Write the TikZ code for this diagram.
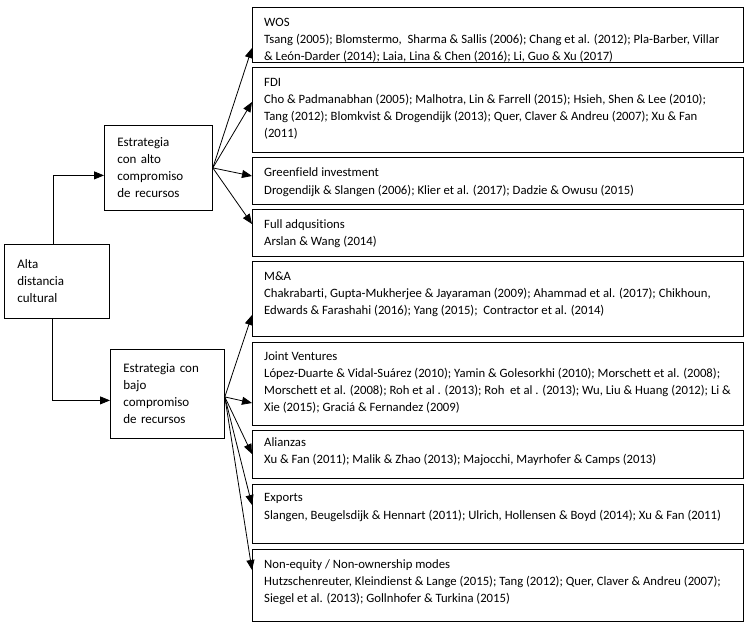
\documentclass[tikz,border=0pt]{standalone}
\usepackage{fontspec}
\setmainfont{Carlito}[Ligatures=CommonOff]
\usetikzlibrary{arrows.meta,calc}
\begin{document}
\begin{tikzpicture}[x=1pt,y=-1pt,
  box/.style={draw, line width=0.8pt, rectangle, inner sep=0pt, anchor=north west, minimum width=491pt},
  lbox/.style={draw, line width=0.8pt, rectangle, anchor=north west, align=left, inner xsep=13pt, inner ysep=0pt, font=\fontsize{13}{17}\selectfont},
  txt/.style={anchor=north west, inner sep=0pt, align=left, font=\fontsize{12.7}{17}\selectfont},
  arr/.style={line width=0.8pt, -{Triangle[length=10pt,width=8pt]}}]
\fill[white] (0,0) rectangle (753,629);
\useasboundingbox (0,0) rectangle (753,629);

% left boxes
\node[lbox, text width=79pt, minimum height=74pt] (alta) at (4,244) {Alta\\distancia\\cultural};
\node[lbox, text width=82pt, minimum height=85pt] (alto) at (104,125) {Estrategia\\con alto\\compromiso\\de recursos};
\node[lbox, text width=88pt, minimum height=89pt] (bajo) at (110,349) {Estrategia con\\bajo\\compromiso\\de recursos};

% right boxes
\node[box, minimum height=55pt] (wos) at (252,7) {};
\node[box, minimum height=85pt] (fdi) at (252,67) {};
\node[box, minimum height=47pt] (green) at (252,157) {};
\node[box, minimum height=47pt] (full) at (252,209) {};
\node[box, minimum height=75pt] (ma) at (252,261) {};
\node[box, minimum height=83pt] (jv) at (252,342) {};
\node[box, minimum height=48pt] (ali) at (252,430) {};
\node[box, minimum height=59pt] (exp) at (252,484) {};
\node[box, minimum height=72pt] (neq) at (252,549) {};

\node[txt] (twos) at ($(wos.north west)+(12,7.5)$) {\strut WOS\\Tsang (2005); Blomstermo,\ \ Sharma \& Sallis (2006); Chang et al. (2012); Pla-Barber, Villar\\\& León-Darder (2014); Laia, Lina \& Chen (2016); Li, Guo \& Xu (2017)};
\node[txt] (tfdi) at ($(fdi.north west)+(12,7.5)$) {\strut FDI\\Cho \& Padmanabhan (2005); Malhotra, Lin \& Farrell (2015); Hsieh, Shen \& Lee (2010);\\Tang (2012); Blomkvist \& Drogendijk (2013); Quer, Claver \& Andreu (2007); Xu \& Fan\\(2011)};
\node[txt] (tgreen) at ($(green.north west)+(12,7)$) {\strut Greenfield investment\\[1pt]Drogendijk \& Slangen (2006); Klier et al. (2017); Dadzie \& Owusu (2015)};
\node[txt] (tfull) at ($(full.north west)+(12,7.5)$) {\strut Full adqusitions\\Arslan \& Wang (2014)};
\node[txt] (tma) at ($(ma.north west)+(12,7.5)$) {\strut M\&A\\Chakrabarti, Gupta-Mukherjee \& Jayaraman (2009); Ahammad et al. (2017); Chikhoun,\\Edwards \& Farashahi (2016); Yang (2015);\ \ Contractor et al. (2014)};
\node[txt] (tjv) at ($(jv.north west)+(12,6)$) {\strut Joint Ventures\\López-Duarte \& Vidal-Suárez (2010); Yamin \& Golesorkhi (2010); Morschett et al. (2008);\\Morschett et al. (2008); Roh et al . (2013); Roh\ \ et al . (2013); Wu, Liu \& Huang (2012); Li \&\\Xie (2015); Graciá \& Fernandez (2009)};
\node[txt] (tali) at ($(ali.north west)+(12,4)$) {\strut Alianzas\\Xu \& Fan (2011); Malik \& Zhao (2013); Majocchi, Mayrhofer \& Camps (2013)};
\node[txt] (texp) at ($(exp.north west)+(12,5)$) {\strut Exports\\[1pt]Slangen, Beugelsdijk \& Hennart (2011); Ulrich, Hollensen \& Boyd (2014); Xu \& Fan (2011)};
\node[txt] (tneq) at ($(neq.north west)+(12,7)$) {\strut Non-equity / Non-ownership modes\\Hutzschenreuter, Kleindienst \& Lange (2015); Tang (2012); Quer, Claver \& Andreu (2007);\\Siegel et al. (2013); Gollnhofer \& Turkina (2015)};

% connectors from Alta
\draw[arr] ([xshift=-4pt]alta.north) |- ([yshift=-7.5pt]alto.west);
\draw[arr] ([xshift=-5pt]alta.south) |- ([yshift=-6.5pt]bajo.west);

% upper fan
\coordinate (o1) at (alto.east);
\draw[arr] (o1) -- ([yshift=-41pt]wos.north west);
\draw[arr] (o1) -- ([yshift=-35pt]fdi.north west);
\draw[arr] (o1) -- ([yshift=-19pt]green.north west);
\draw[arr] (o1) -- ([yshift=-15pt]full.north west);

% lower fan
\coordinate (o2) at ([yshift=-3pt]bajo.east);
\draw[arr] (o2) -- ([yshift=-54pt]ma.north west);
\draw[arr] (o2) -- ([yshift=-61pt]jv.north west);
\draw[arr] (o2) -- ([yshift=-24pt]ali.north west);
\draw[arr] (o2) -- ([yshift=-21pt]exp.north west);
\draw[arr] (o2) -- ([yshift=-21pt]neq.north west);
\end{tikzpicture}
\end{document}
